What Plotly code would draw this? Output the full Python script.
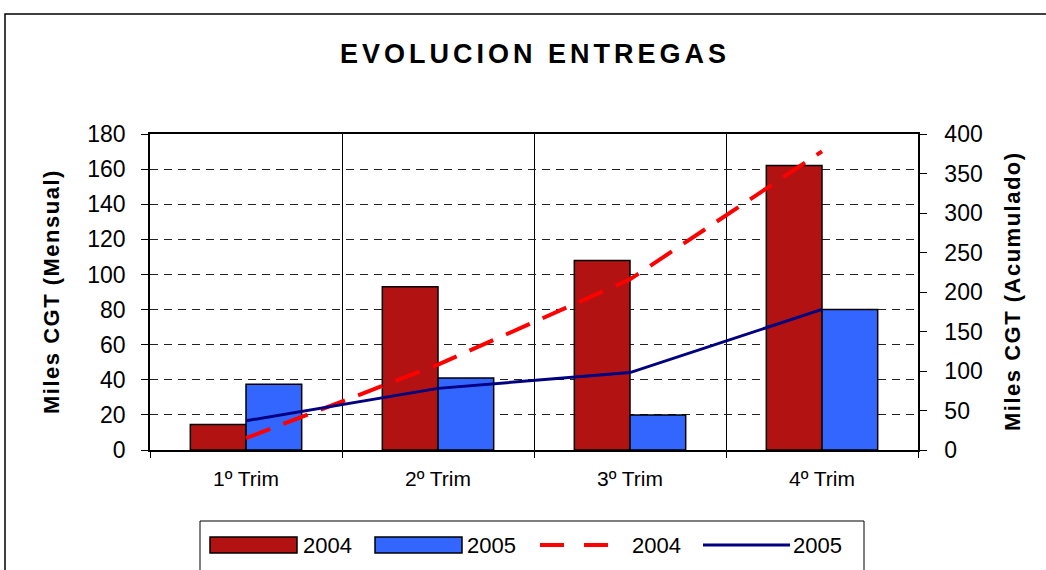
import plotly.graph_objects as go

categories = ["1º Trim", "2º Trim", "3º Trim", "4º Trim"]
mensual_2004 = [14.5, 93, 108, 162]
mensual_2005 = [37.5, 41, 20, 80]
acumulado_2004 = [15, 108, 216, 378]
acumulado_2005 = [37, 78, 98, 178]
left_ticks = list(range(0, 181, 20))
right_ticks = list(range(0, 401, 50))

FONT = "Liberation Sans, Arial, sans-serif"
W, H = 1046, 570
L, R, T, B = 150, 918, 134, 450


def px(x):
    return (x - L) / (R - L)


def py(y):
    return (B - y) / (B - T)


fig = go.Figure()
fig.add_trace(go.Bar(x=categories, y=mensual_2004, name="2004",
                     marker=dict(color="#B21212", line=dict(color="black", width=1.5)),
                     showlegend=False))
fig.add_trace(go.Bar(x=categories, y=mensual_2005, name="2005",
                     marker=dict(color="#3366FF", line=dict(color="black", width=1.5)),
                     showlegend=False))
fig.add_trace(go.Scatter(x=categories, y=acumulado_2004, name="2004", yaxis="y2",
                         mode="lines", line=dict(color="#FF0000", width=4, dash="26px,14px"),
                         showlegend=False))
fig.add_trace(go.Scatter(x=categories, y=acumulado_2005, name="2005", yaxis="y2",
                         mode="lines", line=dict(color="#000080", width=3),
                         showlegend=False))

shapes = []
annotations = []
# outer frame
shapes.append(dict(type="rect", xref="paper", yref="paper",
                   x0=px(5), x1=px(1052), y0=py(14), y1=py(580),
                   line=dict(color="black", width=1.5), fillcolor="rgba(0,0,0,0)", layer="below"))
# legend box
shapes.append(dict(type="rect", xref="paper", yref="paper",
                   x0=px(200), x1=px(864), y0=py(521), y1=py(580),
                   line=dict(color="black", width=1), fillcolor="white"))
ly = 545
shapes.append(dict(type="rect", xref="paper", yref="paper", x0=px(210), x1=px(297),
                   y0=py(537), y1=py(553), fillcolor="#B21212", line=dict(color="black", width=1.5)))
shapes.append(dict(type="rect", xref="paper", yref="paper", x0=px(375), x1=px(462),
                   y0=py(537), y1=py(553), fillcolor="#3366FF", line=dict(color="black", width=1.5)))
shapes.append(dict(type="line", xref="paper", yref="paper", x0=px(540), x1=px(625),
                   y0=py(ly), y1=py(ly), line=dict(color="#FF0000", width=4, dash="24px,20px")))
shapes.append(dict(type="line", xref="paper", yref="paper", x0=px(703), x1=px(790),
                   y0=py(ly), y1=py(ly), line=dict(color="#000080", width=3)))
for xpos, txt in [(301, "2004"), (465, "2005"), (630, "2004"), (791, "2005")]:
    annotations.append(dict(xref="paper", yref="paper", x=px(xpos), y=py(ly), text=txt,
                            showarrow=False, xanchor="left", yanchor="middle",
                            font=dict(family=FONT, size=22, color="black")))

# axis titles
annotations.append(dict(xref="paper", yref="paper", x=px(51), y=py(292),
                        text='<span style="letter-spacing:1.5px"><b>Miles CGT (Mensual)</b></span>',
                        textangle=-90, showarrow=False, xanchor="center", yanchor="middle",
                        font=dict(family=FONT, size=22, color="black")))
annotations.append(dict(xref="paper", yref="paper", x=px(1012), y=py(291),
                        text='<span style="letter-spacing:1.5px"><b>Miles CGT (Acumulado)</b></span>',
                        textangle=-90, showarrow=False, xanchor="center", yanchor="middle",
                        font=dict(family=FONT, size=22, color="black")))

fig.update_layout(
    width=W, height=H,
    margin=dict(l=L, r=W - R, t=T, b=H - B, pad=0),
    paper_bgcolor="white", plot_bgcolor="white",
    barmode="group", bargap=0.42, bargroupgap=0,
    title=dict(text='<span style="letter-spacing:4px"><b>EVOLUCION ENTREGAS</b></span>',
               x=px(535), xanchor="center", xref="paper",
               y=1 - 54 / H, yanchor="middle", yref="container",
               font=dict(family=FONT, size=27, color="black")),
    font=dict(family=FONT, color="black"),
    xaxis=dict(type="category", categoryorder="array", categoryarray=categories,
               tickson="boundaries", ticks="outside", ticklen=6, tickcolor="black",
               showgrid=True, gridcolor="black", gridwidth=1,
               showline=True, linecolor="black", linewidth=1.5, mirror=True,
               tickfont=dict(family=FONT, size=21, color="black"), ticklabelstandoff=9),
    yaxis=dict(range=[0, 180], tickvals=left_ticks, ticks="outside", ticklen=7, tickcolor="black",
               showgrid=True, gridcolor="#222", gridwidth=1, griddash="8px,6px",
               showline=True, linecolor="black", linewidth=1.5, zeroline=False,
               tickfont=dict(family=FONT, size=23, color="black"), ticklabelstandoff=11),
    yaxis2=dict(range=[0, 400], tickvals=right_ticks, overlaying="y", side="right",
                ticks="outside", ticklen=7, tickcolor="black", showgrid=False,
                showline=True, linecolor="black", linewidth=1.5, zeroline=False,
                tickfont=dict(family=FONT, size=23, color="black"), ticklabelstandoff=13),
    shapes=shapes, annotations=annotations, showlegend=False,
)

fig.write_html("out.html", config={"displayModeBar": False},
               post_script="document.body.style.margin='0';document.body.style.overflow='hidden';")
